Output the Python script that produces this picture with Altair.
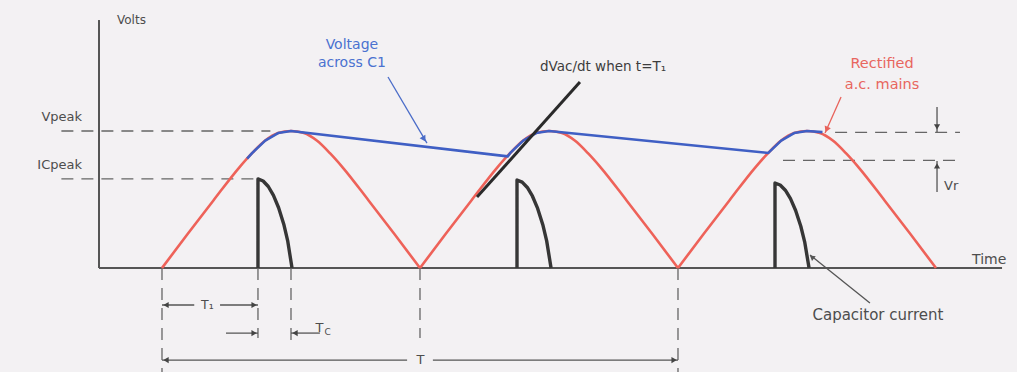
import altair as alt
import pandas as pd

# ---- scale domains: time in ms (x), volts (y) ----
T_DOMAIN = [-6.279, 33.140]
V_DOMAIN = [-7.591, 19.562]

# ---- rectified a.c. mains (three half cycles) ----
red_t = [0, 1, 2, 3, 3.5, 4, 4.5, 5, 5.5, 6, 6.5, 7, 8, 9, 10,
         10, 11, 12, 13, 13.5, 14, 14.5, 15, 15.5, 16, 16.5, 17, 18, 19, 20,
         20, 21, 22, 23, 23.5, 24, 24.5, 25, 25.5, 26, 26.5, 27, 28, 29, 30]
red_v = [0, 2.5, 4.95, 7.35, 8.4, 9.3, 9.85, 10, 9.85, 9.3, 8.4, 7.35, 4.95, 2.5, 0,
         0, 2.5, 4.95, 7.35, 8.4, 9.3, 9.85, 10, 9.85, 9.3, 8.4, 7.35, 4.95, 2.5, 0,
         0, 2.5, 4.95, 7.35, 8.4, 9.3, 9.85, 10, 9.85, 9.3, 8.4, 7.35, 4.95, 2.5, 0]
red_cycle = [1] * 15 + [2] * 15 + [3] * 15

# ---- voltage across C1 ----
blue_t = [3.3, 3.5, 4, 4.5, 5, 13.4, 13.5, 14, 14.5, 15, 23.5, 24, 24.5, 25, 25.6]
blue_v = [7.98, 8.4, 9.3, 9.85, 10.0, 8.15, 8.4, 9.3, 9.85, 10.0, 8.4, 9.3, 9.85, 10.0, 9.92]

# ---- capacitor current pulses ----
pulse_id = [1] * 9 + [2] * 9 + [3] * 9
pulse_t = [3.72, 3.72, 3.92, 4.12, 4.32, 4.52, 4.72, 4.87, 5.04,
           13.76, 13.76, 13.96, 14.16, 14.36, 14.56, 14.76, 14.91, 15.08,
           23.76, 23.76, 23.96, 24.16, 24.36, 24.56, 24.76, 24.91, 25.08]
pulse_v = [0, 6.5, 6.35, 5.95, 5.3, 4.4, 3.2, 2.0, 0,
           0, 6.42, 6.27, 5.88, 5.24, 4.35, 3.16, 1.98, 0,
           0, 6.2, 6.06, 5.68, 5.06, 4.2, 3.05, 1.91, 0]

# ---- tangent dVac/dt at t = T1 ----
tan_t = [12.21, 16.2]
tan_v = [5.18, 13.58]

# ---- axes ----
axis_t1 = [-2.442, -2.442]
axis_v1 = [0, 0]
axis_t2 = [-2.442, 32.56]
axis_v2 = [18.10, 0]

# ---- dashed guide lines ----
dash_t1 = [-3.9, -3.9, 26.09, 24.07, 0, 3.72, 5.0, 10.0, 20.0]
dash_v1 = [10.0, 6.5, 9.9, 7.85, 0, 0, 0, 0, 0]
dash_t2 = [4.2, 3.72, 30.93, 30.93, 0, 3.72, 5.0, 10.0, 20.0]
dash_v2 = [10.0, 6.5, 9.9, 7.85, -7.59, -5.11, -5.62, -5.11, -7.59]

# ---- thin solid dimension / pointer lines ----
thin_t1 = [0, 2.25, 2.48, 5.0, 0, 10.5, 30.04, 30.04]
thin_v1 = [-2.70, -2.70, -4.75, -4.75, -6.72, -6.72, 11.75, 5.55]
thin_t2 = [1.25, 3.72, 3.72, 6.12, 9.5, 20.0, 30.04, 30.04]
thin_v2 = [-2.70, -2.70, -4.75, -4.75, -6.72, -6.72, 9.93, 7.81]

# ---- labelled pointer arrows (blue, red, grey) ----
ptr_t1 = [8.76, 26.32, 27.44]
ptr_v1 = [13.94, 12.48, -2.55]
ptr_t2 = [10.27, 25.70, 25.12]
ptr_v2 = [9.12, 9.85, 0.95]
ptr_color = ["#4a6cc8", "#e8625a", "#555555"]

# ---- arrow heads ----
head_t = [0.155, 3.57, 3.57, 5.155, 0.155, 19.85, 30.04, 30.04, 10.155, 25.76, 25.19]
head_v = [-2.70, -2.70, -4.75, -4.75, -6.72, -6.72, 10.3, 7.45, 9.42, 10.11, 0.80]
head_angle = [270, 90, 90, 270, 270, 90, 180, 0, 149, 204, 309]
head_color = ["#444444"] * 8 + ["#4a6cc8", "#e8625a", "#555555"]
head_size = [38, 38, 38, 38, 38, 38, 38, 38, 45, 45, 35]

# ---- text labels ----
lab_text = ["Volts", "Voltage", "across C1", "dVac/dt when t=T\u2081", "Rectified",
            "a.c. mains", "Time", "Vr", "Capacitor current", "T\u2081", "T", "T", "C",
            "Vpeak", "ICpeak"]
lab_t = [-1.744, 7.36, 7.36, 14.65, 27.91, 27.91, 31.40, 30.31, 27.75, 1.76, 10.02, 5.95, 6.30,
         -3.10, -3.10]
lab_v = [18.10, 16.28, 14.96, 14.67, 14.89, 13.36, 0.58, 5.99, -3.45, -2.70, -6.72, -4.40, -4.70,
         11.02, 7.52]
lab_align = ["left", "center", "center", "left", "center", "center", "left", "left", "center",
             "center", "center", "left", "left", "right", "right"]
lab_color = ["#4d4d4d", "#4a72d0", "#4a72d0", "#3d3d3d", "#e8665e", "#e8665e", "#4d4d4d", "#4d4d4d",
             "#4d4d4d", "#4d4d4d", "#4d4d4d", "#4d4d4d", "#4d4d4d", "#4d4d4d", "#4d4d4d"]
lab_size = [12, 14, 14, 13.5, 14.5, 14.5, 14, 13, 15, 12.5, 13, 13, 9, 13, 13]

# ---------------- build ----------------
xs = alt.Scale(domain=T_DOMAIN, nice=False, zero=False)
ys = alt.Scale(domain=V_DOMAIN, nice=False, zero=False)


def X(f):
    return alt.X(f, type="quantitative", scale=xs, axis=None)


def Y(f):
    return alt.Y(f, type="quantitative", scale=ys, axis=None)


red_df = pd.DataFrame({"t": red_t, "v": red_v, "cycle": red_cycle})
blue_df = pd.DataFrame({"t": blue_t, "v": blue_v, "i": list(range(len(blue_t)))})
pulse_df = pd.DataFrame({"t": pulse_t, "v": pulse_v, "id": pulse_id,
                         "i": list(range(len(pulse_t)))})
tan_df = pd.DataFrame({"t": [tan_t[0]], "v": [tan_v[0]], "t2": [tan_t[1]], "v2": [tan_v[1]]})
axis_df = pd.DataFrame({"t": axis_t1, "v": axis_v1, "t2": axis_t2, "v2": axis_v2})
dash_df = pd.DataFrame({"t": dash_t1, "v": dash_v1, "t2": dash_t2, "v2": dash_v2})
thin_df = pd.DataFrame({"t": thin_t1, "v": thin_v1, "t2": thin_t2, "v2": thin_v2})
ptr_df = pd.DataFrame({"t": ptr_t1, "v": ptr_v1, "t2": ptr_t2, "v2": ptr_v2, "c": ptr_color})
head_df = pd.DataFrame({"t": head_t, "v": head_v, "a": head_angle, "c": head_color, "s": head_size})
lab_df = pd.DataFrame({"text": lab_text, "t": lab_t, "v": lab_v, "align": lab_align,
                       "c": lab_color, "s": lab_size})

seg = dict(x=X("t"), y=Y("v"), x2=alt.X2("t2"), y2=alt.Y2("v2"))

axes = alt.Chart(axis_df).mark_rule(color="#555555", strokeWidth=2).encode(**seg)
dashes = alt.Chart(dash_df).mark_rule(color="#666666", strokeWidth=1.3, strokeDash=[12, 8]).encode(**seg)
thin = alt.Chart(thin_df).mark_rule(color="#555555", strokeWidth=1.3).encode(**seg)
ptrs = alt.Chart(ptr_df).mark_rule(strokeWidth=1.3).encode(color=alt.Color("c:N", scale=None), **seg)

red = alt.Chart(red_df).mark_line(color="#ee6259", strokeWidth=2.6, interpolate="monotone").encode(
    x=X("t"), y=Y("v"), detail="cycle:N")

blue = alt.Chart(blue_df).mark_line(color="#3f5fc4", strokeWidth=2.6, strokeJoin="round").encode(
    x=X("t"), y=Y("v"), order="i:Q")

pulses = alt.Chart(pulse_df).mark_line(color="#363636", strokeWidth=3.4, strokeJoin="round").encode(
    x=X("t"), y=Y("v"), detail="id:N", order="i:Q")

tangent = alt.Chart(tan_df).mark_rule(color="#2a2a2a", strokeWidth=3).encode(**seg)

heads = alt.Chart(head_df).mark_point(shape="triangle-up", filled=True, opacity=1).encode(
    x=X("t"), y=Y("v"),
    angle=alt.Angle("a:Q", scale=None),
    color=alt.Color("c:N", scale=None),
    size=alt.Size("s:Q", scale=None))

text_layers = []
for al in ["left", "center", "right"]:
    sub = lab_df[lab_df["align"] == al]
    text_layers.append(
        alt.Chart(sub).mark_text(align=al, baseline="middle", font="DejaVu Sans").encode(
            x=X("t"), y=Y("v"), text="text:N",
            color=alt.Color("c:N", scale=None),
            size=alt.Size("s:Q", scale=None)))

chart = alt.layer(axes, dashes, thin, ptrs, red, blue, pulses, tangent, heads, *text_layers).properties(
    width=1017, height=372, padding=0, autosize=alt.AutoSizeParams(type="none"),
    background="#f3f1f3"
).configure_view(stroke=None)

chart.save("out.html", embed_options={"renderer": "svg", "actions": False})
